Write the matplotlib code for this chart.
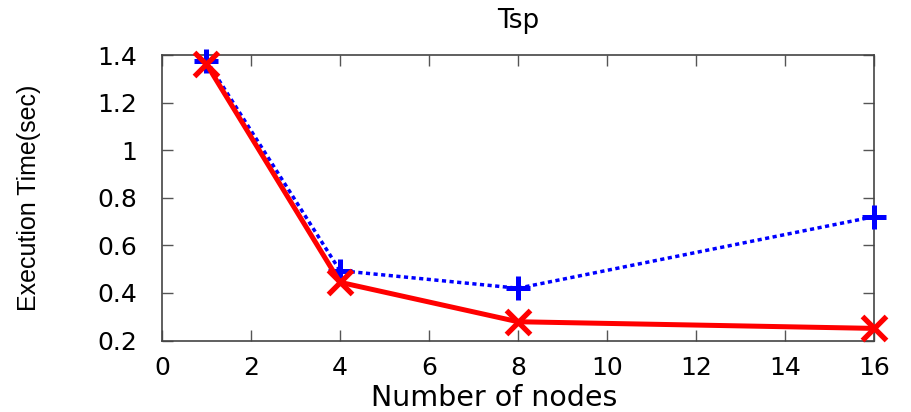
import numpy as np
import matplotlib

matplotlib.use("Agg")
import matplotlib.pyplot as plt

# Tsp run times over node counts
nodes = [1, 4, 8, 16]
time_dotted = [1.378, 0.494, 0.420, 0.721]
time_solid = [1.363, 0.445, 0.279, 0.251]

x_ticks = [0, 2, 4, 6, 8, 10, 12, 14, 16]
y_ticks = [0.2, 0.4, 0.6, 0.8, 1.0, 1.2, 1.4]

plt.rcParams["font.family"] = ["DejaVu Sans"]

fig = plt.figure(figsize=(9.11, 4.12), dpi=100)
ax = fig.add_axes([0.1778, 0.1735, 0.7816, 0.6923])

ax.plot(nodes, time_dotted, color="#0000ff", linestyle=(0, (1.2, 1.0)),
        linewidth=2.5, marker="+", markersize=17, markeredgewidth=3.6,
        clip_on=False, zorder=3)
ax.plot(nodes, time_solid, color="#ff0000", linestyle="-",
        linewidth=3.6, marker="x", markersize=17, markeredgewidth=3.8,
        clip_on=False, zorder=4)

ax.set_xlim(0, 16)
ax.set_ylim(0.2, 1.4)
ax.set_xticks(x_ticks)
ax.set_yticks(y_ticks)
ax.set_xticklabels([f"{v:g}" for v in x_ticks])
ax.set_yticklabels([f"{v:g}" for v in y_ticks])

ax.tick_params(direction="in", length=8, width=1, color="#555555",
               top=True, right=True, labelsize=18)
ax.tick_params(axis="x", pad=11)
ax.tick_params(axis="y", pad=18)
for side in ax.spines.values():
    side.set_color("#444444")
    side.set_linewidth(1.2)

ax.set_title("Tsp", fontsize=19, pad=20)
ax.set_xlabel("Number of nodes", fontsize=20.5, va="baseline")
ax.xaxis.set_label_coords(0.466, -0.228)
ax.set_ylabel("Execution Time(sec)", fontsize=18, family=["Liberation Sans"])
ax.yaxis.set_label_coords(-0.17, 0.5)

fig.savefig("out.png", dpi=100)
